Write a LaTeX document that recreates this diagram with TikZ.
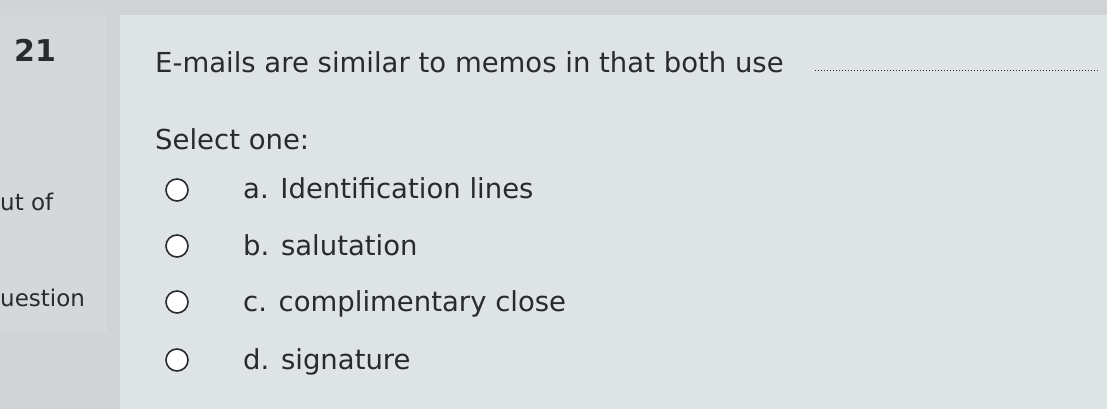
\documentclass[tikz,border=0pt]{standalone}
\usepackage{fontspec}
\setmainfont{DejaVu Sans}
\definecolor{bgc}{RGB}{208,212,212}
\definecolor{panel}{RGB}{222,227,230}
\definecolor{leftp}{RGB}{212,216,216}
\definecolor{txt}{RGB}{40,42,46}
\tikzset{qtext/.style={anchor=base west,text=txt,font=\fontsize{27.5}{30}\selectfont,inner sep=0pt},
radio/.style={circle,draw=txt,line width=1.6pt,fill=white,minimum size=22pt,inner sep=0pt}}
\begin{document}
\begin{tikzpicture}[x=1pt,y=-1pt]
\fill[bgc] (0,0) rectangle (1107,409);
\useasboundingbox (0,0) rectangle (1107,409);
\fill[leftp] (0,15) rectangle (107,332);
\fill[panel] (120,15) rectangle (1107,409);
\node[qtext,font=\bfseries\fontsize{30}{32}\selectfont] (num) at (14,62) {21};
\node[qtext,font=\fontsize{23}{25}\selectfont] (outof) at (0,210) {ut of};
\node[qtext,font=\fontsize{23}{25}\selectfont] (ques) at (0,306) {uestion};
\node[qtext] (q) at (155,73) {E-mails are similar to memos in that both use};
\coordinate (d1) at (815,71);
\coordinate (d2) at (1098,71);
\draw[txt,dotted,line width=1pt] (d1) -- (d2);
\node[qtext] (sel) at (155,149) {Select one:};
\node[qtext] (a) at (243,198) {a. Identification lines};
\node[qtext] (b) at (243,255) {b. salutation};
\node[qtext] (c) at (243,311) {c. complimentary close};
\node[qtext] (d) at (243,369) {d. signature};
\node[radio] (r1) at (177,190) {};
\node[radio] (r2) at (177,246) {};
\node[radio] (r3) at (177,302) {};
\node[radio] (r4) at (177,360) {};
\end{tikzpicture}
\end{document}
